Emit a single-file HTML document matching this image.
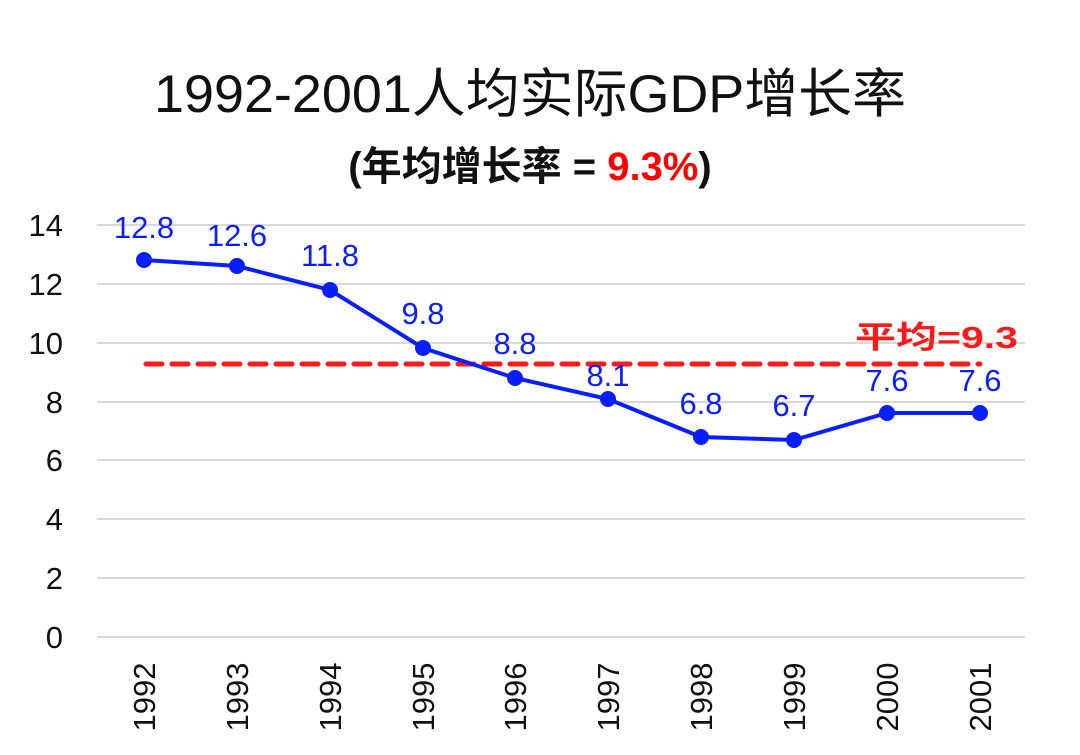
<!DOCTYPE html>
<html><head><meta charset="utf-8"><style>html,body{margin:0;padding:0;background:#fff}svg{display:block}</style></head>
<body>
<svg width="1080" height="755" xmlns="http://www.w3.org/2000/svg" font-family="'Liberation Sans','Noto Sans CJK SC',sans-serif">
<text x="530" y="112" font-size="53" text-anchor="middle" fill="#111" textLength="752" lengthAdjust="spacingAndGlyphs">1992-2001人均实际GDP增长率</text>
<text x="530" y="180" font-size="40" text-anchor="middle" fill="#111" font-weight="bold">(年均增长率 = <tspan fill="#ff0000">9.3%</tspan>)</text>
<g stroke="#d9d9d9" stroke-width="2">
<line x1="97" x2="1025" y1="225" y2="225"/><line x1="97" x2="1025" y1="284" y2="284"/>
<line x1="97" x2="1025" y1="343" y2="343"/><line x1="97" x2="1025" y1="402" y2="402"/>
<line x1="97" x2="1025" y1="460" y2="460"/><line x1="97" x2="1025" y1="519" y2="519"/>
<line x1="97" x2="1025" y1="578" y2="578"/><line x1="97" x2="1025" y1="637" y2="637"/>
</g>
<g font-size="31" fill="#111" text-anchor="end">
<text x="63" y="236">14</text><text x="63" y="295">12</text><text x="63" y="354">10</text>
<text x="63" y="413">8</text><text x="63" y="471">6</text><text x="63" y="530">4</text>
<text x="63" y="589">2</text><text x="63" y="648">0</text>
</g>
<line x1="146" x2="980" y1="364" y2="364" stroke="#ff1a1a" stroke-width="5" stroke-dasharray="16 10" stroke-linecap="round"/>
<text x="1018" y="348" font-size="31" fill="#ff1a1a" text-anchor="end" font-weight="bold" textLength="163" lengthAdjust="spacingAndGlyphs">平均=9.3</text>
<polyline fill="none" stroke="#0a1fff" stroke-width="4" points="144,260 237,266 330,290 423,348 515,378 608,399 701,437 794,440 887,413 980,413"/>
<g fill="#0a1fff">
<circle cx="144" cy="260" r="8"/><circle cx="237" cy="266" r="8"/><circle cx="330" cy="290" r="8"/>
<circle cx="423" cy="348" r="8"/><circle cx="515" cy="378" r="8"/><circle cx="608" cy="399" r="8"/>
<circle cx="701" cy="437" r="8"/><circle cx="794" cy="440" r="8"/><circle cx="887" cy="413" r="8"/><circle cx="980" cy="413" r="8"/>
</g>
<g font-size="31" fill="#0a1fff" text-anchor="middle">
<text x="144" y="238">12.8</text><text x="237" y="246">12.6</text><text x="330" y="266">11.8</text>
<text x="423" y="324">9.8</text><text x="515" y="354">8.8</text><text x="608" y="386">8.1</text>
<text x="701" y="414">6.8</text><text x="794" y="416">6.7</text><text x="887" y="391">7.6</text><text x="980" y="391">7.6</text>
</g>
<g font-size="31" fill="#111" text-anchor="middle">
<text transform="translate(155,697) rotate(-90)">1992</text>
<text transform="translate(248,697) rotate(-90)">1993</text>
<text transform="translate(341,697) rotate(-90)">1994</text>
<text transform="translate(434,697) rotate(-90)">1995</text>
<text transform="translate(526,697) rotate(-90)">1996</text>
<text transform="translate(619,697) rotate(-90)">1997</text>
<text transform="translate(712,697) rotate(-90)">1998</text>
<text transform="translate(805,697) rotate(-90)">1999</text>
<text transform="translate(898,697) rotate(-90)">2000</text>
<text transform="translate(991,697) rotate(-90)">2001</text>
</g>
</svg>
</body></html>
